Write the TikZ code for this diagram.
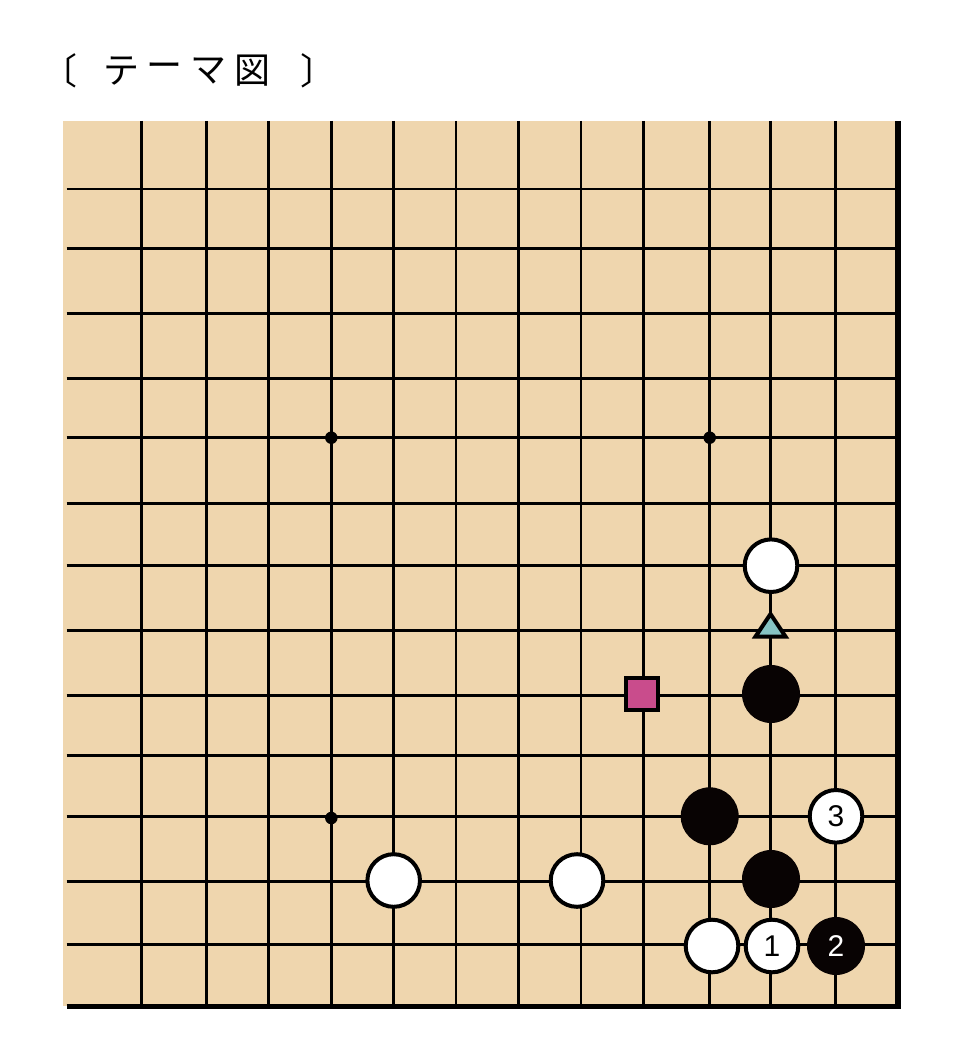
\documentclass[tikz,border=0pt]{standalone}
\usepackage{fontspec}
\newfontfamily\jpfont{Noto Sans CJK JP}
\newfontfamily\numfont{Liberation Sans}
\definecolor{board}{RGB}{239,214,174}
\definecolor{stoneblack}{RGB}{8,3,3}
\definecolor{teal}{RGB}{134,196,195}
\definecolor{magenta}{RGB}{201,76,140}
\tikzset{
  gridline/.style={line width=2.6pt, black},
  edgeline/.style={line width=5.5pt, black},
  wstone/.style={circle, draw=black, fill=white, line width=4pt, minimum size=52.6pt, inner sep=0pt, font=\numfont\fontsize{30}{30}\selectfont, text=black},
  bstone/.style={circle, fill=stoneblack, minimum size=58pt, inner sep=0pt, font=\numfont\fontsize{30}{30}\selectfont, text=white},
  starpt/.style={circle, fill=black, minimum size=12.5pt, inner sep=0pt},
  ttl/.style={font=\jpfont\fontsize{36}{36}\selectfont, inner sep=0pt},
  sqmark/.style={rectangle, draw=black, fill=magenta, line width=4pt, minimum size=32pt, inner sep=0pt},
  trimark/.style={draw=black, fill=teal, line width=4pt, line join=miter}
}
\begin{document}
\begin{tikzpicture}[x=1pt,y=-1pt]
\useasboundingbox (0,0) rectangle (952,1064);
% title
\node[ttl] (tl) at (59,71) {〔};
\node[ttl] (t1) at (121,71) {テ};
\node[ttl] (t2) at (164,71) {ー};
\node[ttl] (t3) at (208,71) {マ};
\node[ttl] (t4) at (252,71) {図};
\node[ttl] (tr) at (318,71) {〕};
% board
\fill[board] (63,121) rectangle (898,1006);
\foreach \gx in {141.7,206.7,268.7,331.3,393.7,456,518.7,581,643.3,709.7,770.5,835.7}
  \draw[gridline] (\gx,121) -- (\gx,1006);
\foreach \gy in {189,248.3,313.3,378.3,437.7,503.3,565.7,630.7,695.7,755.7,816.3,881.3,944.7}
  \draw[gridline] (66.7,\gy) -- (898,\gy);
\draw[edgeline] (66.7,1006.3) -- (901,1006.3);
\draw[line width=6pt] (898.3,121) -- (898.3,1009);
% star points
\node[starpt] (s1) at (331.3,437.7) {};
\node[starpt] (s2) at (709.7,437.7) {};
\node[starpt] (s3) at (331.3,818) {};
% stones
\node[wstone] (wA) at (771,565.7) {};
\node[bstone] (bA) at (771,694) {};
\node[bstone] (bB) at (709.7,816.3) {};
\node[wstone] (w3) at (836,816.3) {3};
\node[bstone] (bC) at (771,879) {};
\node[wstone] (wB) at (393.7,880.5) {};
\node[wstone] (wC) at (577,880.5) {};
\node[wstone] (wD) at (712,946) {};
\node[wstone] (w1) at (772,946) {1};
\node[bstone] (b2) at (836,946) {2};
% marks
\node[sqmark] (sq) at (641.5,694) {};
\draw[trimark] (770.5,614) -- (785.5,636.5) -- (755.5,636.5) -- cycle;
\end{tikzpicture}
\end{document}
